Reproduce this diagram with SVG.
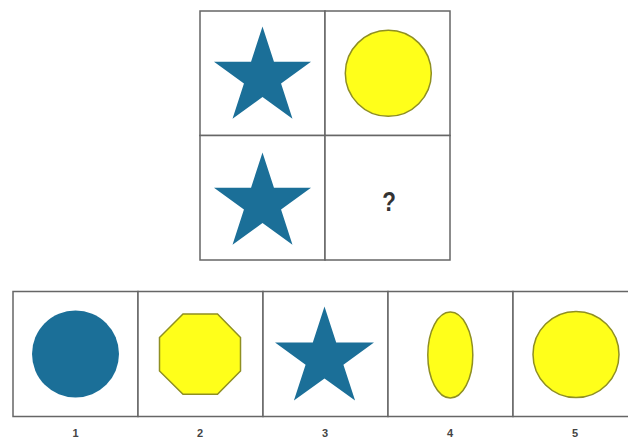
<svg xmlns="http://www.w3.org/2000/svg" xmlns:xlink="http://www.w3.org/1999/xlink" width="628" height="443" viewBox="0 0 628 443">
<defs>
<style>
.cell{fill:#ffffff;stroke:#666666;stroke-width:1.5}
.blue{fill:#1b6f98}
.yel{fill:#ffff1a;stroke:#8f8f22;stroke-width:1.5}
.num{font-family:"Liberation Sans",Arial,sans-serif;font-size:11px;font-weight:bold;fill:#444444;text-anchor:middle}
.q{font-family:"Liberation Sans",Arial,sans-serif;font-size:28px;font-weight:bold;fill:#333333;text-anchor:middle}
</style>
<path id="star" d="M0,-51 L11.46,-15.78 L48.51,-15.76 L18.55,6.03 L29.98,41.26 L0,19.5 L-29.98,41.26 L-18.55,6.03 L-48.51,-15.76 L-11.46,-15.78 Z"/>
</defs>
<rect width="628" height="443" fill="#ffffff"/>
<g id="grid">
<rect class="cell" x="200" y="11" width="125" height="124.5"/>
<rect class="cell" x="325" y="11" width="125" height="124.5"/>
<rect class="cell" x="200" y="135.5" width="125" height="124.5"/>
<rect class="cell" x="325" y="135.5" width="125" height="124.5"/>
</g>
<g id="cell-star-1"><use xlink:href="#star" class="blue" transform="translate(262.5,77.5)"/></g>
<g id="cell-circle"><circle class="yel" cx="388.3" cy="73.3" r="43"/></g>
<g id="cell-star-2"><use xlink:href="#star" class="blue" transform="translate(262.5,203.5)"/></g>
<g id="cell-question"><text class="q" x="389" y="211" transform="translate(389,0) scale(0.8,1) translate(-389,0)">?</text></g>
<g id="options">
<rect class="cell" x="13" y="291.5" width="125" height="125"/>
<rect class="cell" x="138" y="291.5" width="125" height="125"/>
<rect class="cell" x="263" y="291.5" width="125" height="125"/>
<rect class="cell" x="388" y="291.5" width="125" height="125"/>
<rect class="cell" x="513" y="291.5" width="125" height="125"/>
</g>
<g id="option-1"><circle class="blue" cx="75.5" cy="354" r="43.5"/><text class="num" x="75.5" y="437">1</text></g>
<g id="option-2"><polygon class="yel" points="183,314 217.5,314 240.5,337.5 240.5,371 217.5,394.3 183,394.3 159.5,371 159.5,337.5"/><text class="num" x="200" y="437">2</text></g>
<g id="option-3"><use xlink:href="#star" class="blue" transform="translate(324.5,358.5) scale(1.02)"/><text class="num" x="325" y="437">3</text></g>
<g id="option-4"><ellipse class="yel" cx="450.3" cy="355" rx="22.5" ry="43"/><text class="num" x="450" y="437">4</text></g>
<g id="option-5"><circle class="yel" cx="576" cy="354.5" r="43"/><text class="num" x="575" y="437">5</text></g>
<g id="connectors"/>
</svg>
